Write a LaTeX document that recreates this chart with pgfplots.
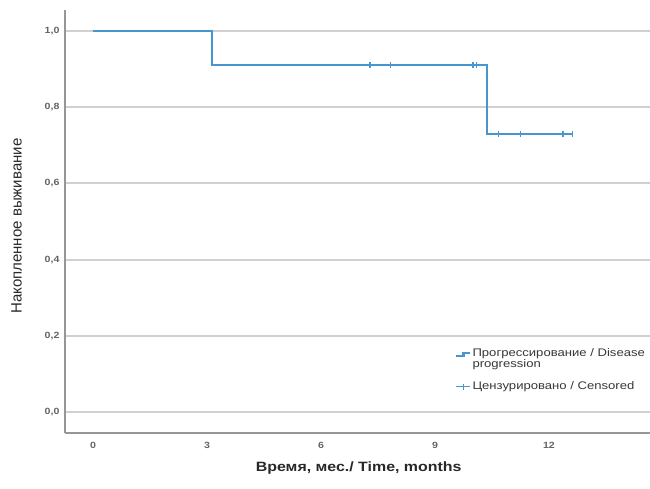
\documentclass[border=0pt]{standalone}
\usepackage{fontspec}
\setmainfont{Liberation Sans}
\newfontfamily\widefont[FakeStretch=1.18]{Liberation Sans}
\newfontfamily\legfont[FakeStretch=1.19]{Liberation Sans}
\usepackage{pgfplots}
\pgfplotsset{compat=1.18}
\definecolor{kmblue}{RGB}{70,150,210}
\definecolor{gridgray}{RGB}{208,208,208}
\definecolor{axgray}{RGB}{150,150,150}
\definecolor{ticktext}{RGB}{100,100,100}
\definecolor{labtext}{RGB}{40,40,40}
\definecolor{legtext}{RGB}{55,55,55}
\begin{document}
\begin{tikzpicture}
\useasboundingbox (0pt,0pt) rectangle (650pt,488pt);
\begin{axis}[
  at={(65pt,55pt)}, anchor=south west,
  scale only axis, width=585pt, height=423pt,
  xmin=-0.74, xmax=14.66, ymin=-0.055, ymax=1.055,
  axis x line*=bottom, axis y line*=left,
  axis line style={axgray, line width=2pt, -},
  xtick={0,3,6,9,12}, ytick={0,0.2,0.4,0.6,0.8,1},
  ymajorgrids, grid style={gridgray, line width=1.8pt},
  major tick style={draw=none},
  ticklabel style={font=\widefont\fontsize{9}{10}\selectfont\bfseries, text=ticktext},
  xticklabel style={yshift=-6pt},
  yticklabel style={xshift=-2pt, /pgf/number format/.cd, fixed, fixed zerofill, precision=1, use comma, assume math mode=true},
  xticklabel style={/pgf/number format/.cd, assume math mode=true},
  xlabel={Время, мес./ Time, months},
  xlabel style={at={(axis description cs:0.502,-0.082)}, anchor=center, font=\widefont\fontsize{13.5}{15}\selectfont\bfseries, text=labtext},
  ylabel={Накопленное выживание},
  ylabel style={at={(axis description cs:-0.083,0.489)}, anchor=center, rotate=0, font=\fontsize{15}{17}\selectfont, text=labtext},
  legend style={at={(axis cs:9.53,0.170)}, anchor=north west, draw=none, fill=none,
    font=\legfont\fontsize{11}{11}\selectfont, text=legtext, cells={align=left}, row sep=11pt, inner sep=0pt,
    nodes={inner sep=1pt}},
  legend cell align=left,
]
\addplot[kmblue, line width=2.5pt,
  legend image code/.code={\draw[kmblue, line width=2.2pt] (0pt,3pt) -- (7pt,3pt) -- (7pt,6pt) -- (14pt,6pt);}]
  coordinates {(0,1) (3.13,1) (3.13,0.911) (10.37,0.911) (10.37,0.73) (12.63,0.73)};
\addlegendentry{Прогрессирование / Disease\\progression}
\addplot[only marks, mark=|, mark size=3pt, kmblue, mark options={line width=1.2pt},
  legend image code/.code={\draw[kmblue, line width=1.2pt] (0pt,0pt) -- (14pt,0pt); \draw[kmblue, line width=1.2pt] (7pt,-3pt) -- (7pt,3pt);}]
  coordinates {(7.29,0.911) (7.82,0.911) (10.0,0.911) (10.1,0.911) (10.68,0.73) (11.26,0.73) (12.37,0.73) (12.63,0.73)};
\addlegendentry{Цензурировано / Censored}
\end{axis}
\end{tikzpicture}
\end{document}
